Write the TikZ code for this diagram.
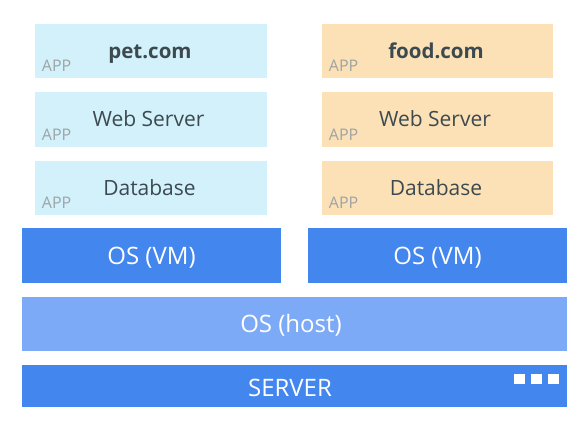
\documentclass[tikz,border=0pt]{standalone}
\usepackage{fontspec}
\setmainfont{Open Sans}
\definecolor{petc}{HTML}{D2F1FB}
\definecolor{foodc}{HTML}{FCE1B6}
\definecolor{vmc}{HTML}{4386EE}
\definecolor{hostc}{HTML}{7DAAF6}
\definecolor{txtc}{HTML}{3C4A50}
\definecolor{appc}{HTML}{9EA3A6}
\tikzset{
  layer/.style={inner sep=0pt, outer sep=0pt, anchor=north west},
  petbox/.style={layer, fill=petc},
  foodbox/.style={layer, fill=foodc},
  vmbox/.style={layer, fill=vmc},
  hostbox/.style={layer, fill=hostc},
  apptxt/.style={text=txtc, font=\fontsize{21}{25}\selectfont, inner sep=0pt, anchor=base},
  apptitle/.style={text=txtc, font=\fontsize{20.5}{24}\selectfont\bfseries, inner sep=0pt, anchor=base},
  applabel/.style={text=appc, font=\fontsize{16}{18}\selectfont, inner sep=0pt, anchor=base west},
  ostxt/.style={text=white, font=\fontsize{24}{28}\selectfont, inner sep=0pt, anchor=base},
  dot/.style={fill=white, inner sep=0pt, minimum size=10.5pt, anchor=north west}
}
\begin{document}
\begin{tikzpicture}[x=1pt,y=-1pt]
\useasboundingbox (0,0) rectangle (588,424);
% left app stack
\node[petbox, minimum width=232pt, minimum height=54pt] (p1) at (35,24) {};
\node[petbox, minimum width=232pt, minimum height=55pt] (p2) at (35,92) {};
\node[petbox, minimum width=232pt, minimum height=54pt] (p3) at (35,160.5) {};
\node[apptitle] (p1t) at (150,58.3) {pet.com};
\node[apptxt] (p2t) at (148.5,126) {Web Server};
\node[apptxt] (p3t) at (149.5,195) {Database};
\node[applabel] (p1a) at ([shift={(6.7pt,6.3pt)}]p1.south west) {APP};
\node[applabel] (p2a) at ([shift={(6.7pt,6.3pt)}]p2.south west) {APP};
\node[applabel] (p3a) at ([shift={(6.7pt,6.3pt)}]p3.south west) {APP};
% right app stack
\node[foodbox, minimum width=231pt, minimum height=54pt] (f1) at (322,24) {};
\node[foodbox, minimum width=231pt, minimum height=55pt] (f2) at (322,92) {};
\node[foodbox, minimum width=231pt, minimum height=54pt] (f3) at (322,160.5) {};
\node[apptitle] (f1t) at (436,58.3) {food.com};
\node[apptxt] (f2t) at (435,126) {Web Server};
\node[apptxt] (f3t) at (436,195) {Database};
\node[applabel] (f1a) at ([shift={(6.7pt,6.3pt)}]f1.south west) {APP};
\node[applabel] (f2a) at ([shift={(6.7pt,6.3pt)}]f2.south west) {APP};
\node[applabel] (f3a) at ([shift={(6.7pt,6.3pt)}]f3.south west) {APP};
% OS VM
\node[vmbox, minimum width=259pt, minimum height=54.5pt] (v1) at (21.5,228.3) {};
\node[vmbox, minimum width=259pt, minimum height=54.5pt] (v2) at (307.7,228.3) {};
\node[ostxt] (v1t) at (151.5,264.3) {OS (VM)};
\node[ostxt] (v2t) at (437.5,264.3) {OS (VM)};
% OS host
\node[hostbox, minimum width=545.2pt, minimum height=54pt] (h) at (21.5,296.7) {};
\node[ostxt] (ht) at (291,332.7) {OS (host)};
% server
\node[vmbox, minimum width=545.2pt, minimum height=42.3pt] (s) at (21.5,365) {};
\node[ostxt] (st) at (290,396.3) {SERVER};
\node[dot] (d1) at (514,373.5) {};
\node[dot] (d2) at (531,373.5) {};
\node[dot] (d3) at (548,373.5) {};
\end{tikzpicture}
\end{document}
